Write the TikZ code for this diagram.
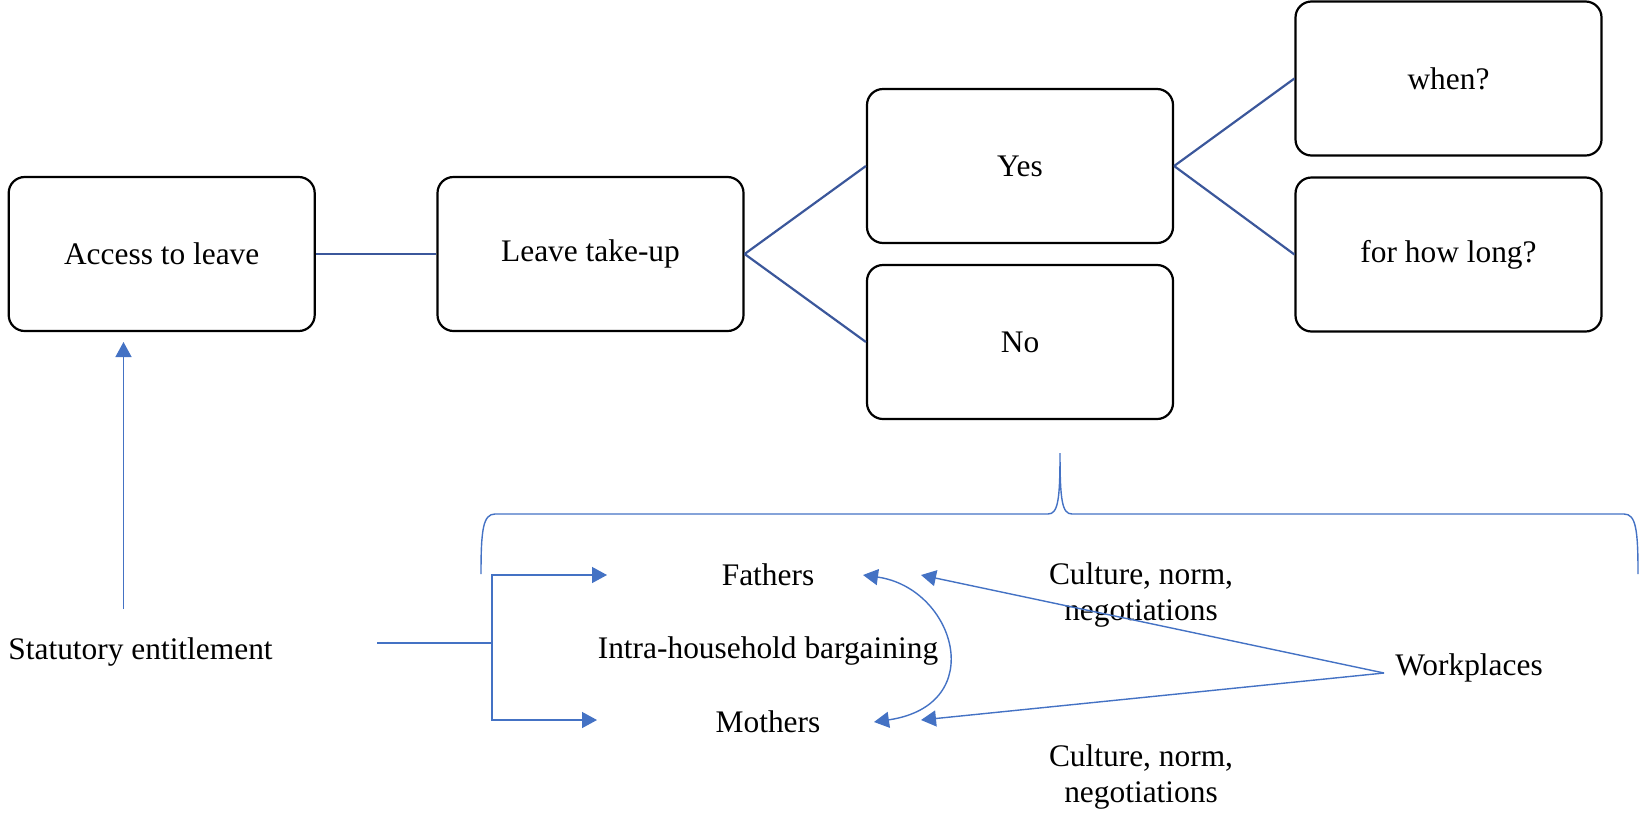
\documentclass[tikz,border=0pt]{standalone}
\usepackage{fontspec}
\setmainfont{Liberation Serif}
\usetikzlibrary{arrows.meta}
\definecolor{lineblue}{RGB}{68,114,196}
\definecolor{darkblue}{RGB}{59,87,155}
\begin{document}
\begin{tikzpicture}[x=0.5pt,y=-0.5pt,
  every node/.style={font=\fontsize{15.7}{18}\selectfont},
  box/.style={draw=black,line width=1.1pt,rounded corners=8pt,minimum width=153pt,minimum height=77pt,inner sep=0pt},
  conn/.style={draw=darkblue,line width=1.1pt},
  thin/.style={draw=lineblue,line width=0.7pt},
  arr/.style={thin,-{Triangle[length=7.5pt,width=8pt]}},
  dblarr/.style={thin,{Triangle[length=7.5pt,width=8pt]}-{Triangle[length=7.5pt,width=8pt]}},
  label/.style={align=center,inner sep=0pt}]
\useasboundingbox (0,0) rectangle (1641,814);
% top boxes
\node[box] (access) at (161.7,254) {Access to leave};
\node[box] (takeup) at (590.5,254) {Leave take-up};
\node[box] (yes) at (1020,166) {Yes};
\node[box] (no) at (1020,342) {No};
\node[box] (when) at (1448.5,78.5) {when?};
\node[box] (howlong) at (1448.5,254.5) {for how long?};
\draw[conn] (access.east) -- (takeup.west);
\draw[conn] (takeup.east) -- (yes.west);
\draw[conn] (takeup.east) -- (no.west);
\draw[conn] (yes.east) -- (when.west);
\draw[conn] (yes.east) -- (howlong.west);
% brace
\draw[thin] (481,574) .. controls (481,530) and (483,514) .. (495,514) -- (1048,514)
  .. controls (1058,514) and (1060,500) .. (1060,453)
  .. controls (1060,500) and (1062,514) .. (1072,514) -- (1624,514)
  .. controls (1636,514) and (1638,530) .. (1638,574);
% bottom texts
\node[label,anchor=west] (statutory) at (8,652) {Statutory entitlement};
\node[label] (fathers) at (768,575) {Fathers};
\node[label] (mothers) at (768,722) {Mothers};
\node[label] (bargain) at (768,651) {Intra-household bargaining};
\node[label] (workplaces) at (1469,668) {Workplaces};
\node[label] (culture1) at (1141,595) {Culture, norm,\\negotiations};
\node[label] (culture2) at (1141,777) {Culture, norm,\\negotiations};
% coordinates
\coordinate (stA) at (123.5,609);
\coordinate (accA) at (123.5,342);
\coordinate (s0) at (377,643);
\coordinate (s1) at (492,643);
\coordinate (sf) at (607,575);
\coordinate (sm) at (597,720);
\coordinate (cf) at (863,575);
\coordinate (cm) at (874,722);
\coordinate (wp) at (1384,673);
\coordinate (wf) at (921,575);
\coordinate (wm) at (921,720);
% bottom connectors
\draw[arr] (stA) -- (accA);
\draw[thin] (s0) -- (s1);
\draw[arr] (s1) |- (sf);
\draw[arr] (s1) |- (sm);
\draw[dblarr] (cf) .. controls (955,588) and (990,705) .. (cm);
\draw[arr] (wp) -- (wf);
\draw[arr] (wp) -- (wm);
\end{tikzpicture}
\end{document}
